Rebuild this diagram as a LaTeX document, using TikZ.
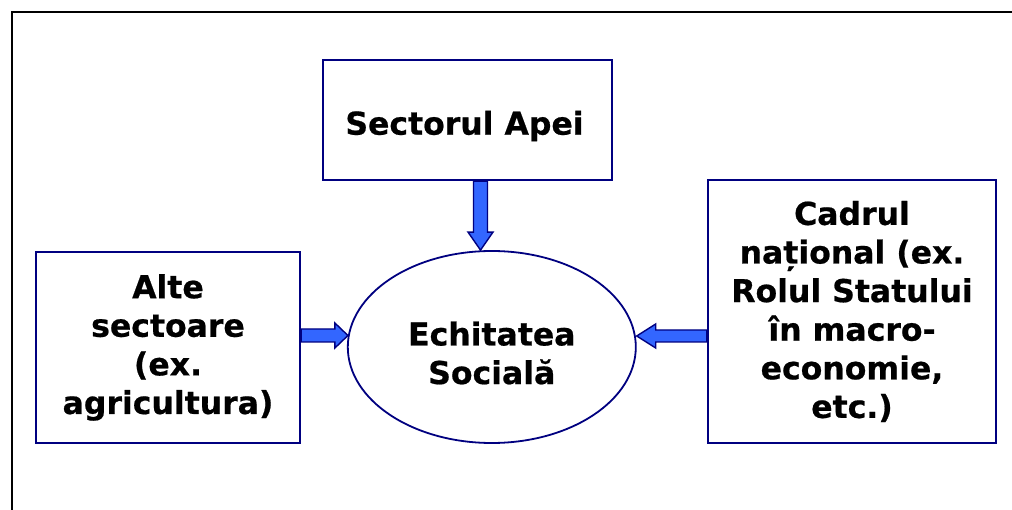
\documentclass[tikz,border=0pt]{standalone}
\usepackage{fontspec}
\setmainfont{DejaVu Sans}[BoldFeatures={FakeBold=0.6}]
\usetikzlibrary{calc,shapes.geometric}
\definecolor{navyb}{HTML}{000080}
\definecolor{arrfill}{HTML}{3366FF}
\tikzset{
  boxfont/.style={font=\fontsize{31.5}{38.6}\selectfont\bfseries},
  box/.style={draw=navyb, line width=2.4pt, inner sep=0pt, align=center, boxfont},
  ell/.style={ellipse, draw=navyb, line width=1.8pt, inner sep=0pt, align=center,
    minimum width=288pt, minimum height=192pt, boxfont},
  blockarrow/.style={draw=navyb, fill=arrfill, line width=1.4pt, line join=miter},
  frame/.style={line width=2.2pt, black}
}
\newcommand\BlockArrow[5]{%
  \path ($(#2)!#5!(#1)$) coordinate (hb);
  \draw[blockarrow] ($(#1)!#3!90:(#2)$) -- ($(hb)!#3!90:(#2)$) -- ($(hb)!#4!90:(#2)$)
    -- (#2) -- ($(hb)!#4!-90:(#2)$) -- ($(hb)!#3!-90:(#2)$) -- ($(#1)!#3!-90:(#2)$) -- cycle;
}
\begin{document}
\begin{tikzpicture}[x=1pt,y=-1pt]
\useasboundingbox (0,0) rectangle (1012,510);
\fill[white] (0,0) rectangle (1012,510);
\draw[frame] (12,511) -- (12,12) -- (1013,12);

\node[box, minimum width=289pt, minimum height=120pt] (top) at (467.5,120) {};
\node[boxfont, inner sep=0pt] (toptext) at ($(top.center)+(-3,6)$) {Sectorul Apei};
\node[box, minimum width=264pt, minimum height=191pt] (left) at (168,347.5) {Alte\\sectoare\\(ex.\\agricultura)};
\node[box, minimum width=288pt, minimum height=263pt] (right) at (852,311.5) {Cadrul\\național (ex.\\Rolul Statului\\în macro-\\economie,\\etc.)};
\node[ell] (ell) at (491.8,347) {};
\node[boxfont, align=center, inner sep=0pt] (elltext) at ($(ell.center)+(0,6)$) {Echitatea\\Socială};

\coordinate (a1s) at ($(top.south)+(13,0)$);
\coordinate (a1e) at (a1s |- ell.north);
\BlockArrow{a1s}{a1e}{7pt}{12.5pt}{18pt}

\coordinate (a2s) at ($(right.west)+(0,24.5)$);
\coordinate (a2e) at (a2s -| ell.east);
\BlockArrow{a2s}{a2e}{6pt}{12pt}{19pt}

\coordinate (a3s) at ($(left.east)+(0,-12)$);
\coordinate (a3e) at ($(a3s -| ell.west)+(1,0)$);
\BlockArrow{a3s}{a3e}{6.5pt}{12.5pt}{13pt}
\end{tikzpicture}
\end{document}
